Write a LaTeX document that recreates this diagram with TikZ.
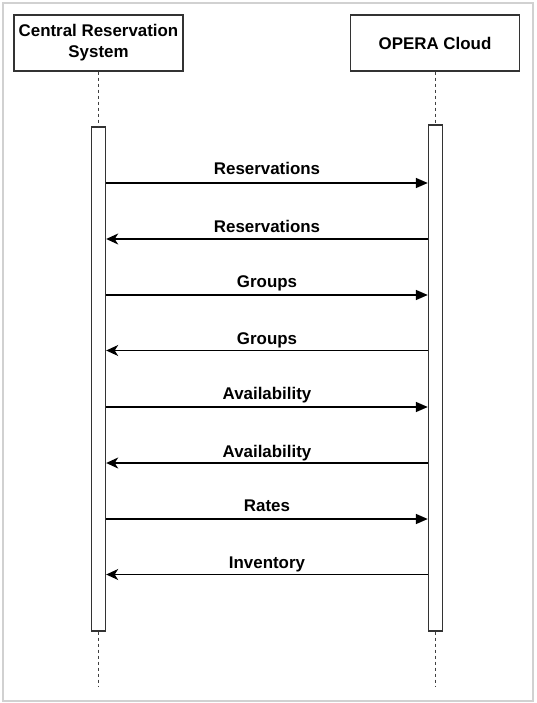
\documentclass[tikz,border=0pt]{standalone}
\usepackage{fontspec}
\setmainfont{Liberation Sans}
\usetikzlibrary{arrows.meta}

\begin{document}
\begin{tikzpicture}[x=1pt,y=-1pt,font=\bfseries\fontsize{16.9}{21}\selectfont]
\tikzstyle{actor}=[draw=black!80,line width=1.4pt,minimum width=169pt,minimum height=56pt,align=center,inner sep=0pt]
\tikzstyle{bar}=[draw=black!80,line width=1.4pt,fill=white,minimum width=14pt,inner sep=0pt]
\tikzstyle{life}=[draw=black!75,line width=1.4pt,dash pattern=on 3pt off 3pt]
\tikzstyle{call}=[line width=1.6pt,-{Triangle[length=12pt,width=10pt]}]
\tikzstyle{reply}=[line width=1.2pt,-{Stealth[length=12pt,width=11pt,inset=3.5pt]}]
\tikzstyle{msg}=[midway,anchor=base,inner sep=0pt]
\useasboundingbox (0,0) rectangle (536,703);
\draw [black!18,line width=1.2pt] (3,3) rectangle (533,701);
\node[actor] (CRS) at (98.5,43) {Central Reservation\\System};
\node[actor] (OC) at (435,43) {OPERA Cloud};
\node[bar,minimum height=504pt] (BL) at (98.5,379) {};
\node[bar,minimum height=506pt] (BR) at (435.5,378) {};
\coordinate (EL) at (98.5,687);
\coordinate (ER) at (435.5,687);
\draw [life] (CRS) -- (BL);
\draw [life] (OC.south -| BR) -- (BR);
\draw [life] (BL.south) -- (EL);
\draw [life] (BR.south) -- (ER);
% requests to OPERA Cloud
\foreach \y/\t/\n in {183/Reservations/1,295/Groups/3,407/Availability/5,519/Rates/7}{
    \coordinate (L\n) at (BL.east |- 0,\y);
    \coordinate (R\n) at (BR.west |- 0,\y);
    \draw [call] (L\n) -- (R\n) node[msg,yshift=8pt] {\t};
}
% replies to the reservation system
\foreach \y/\t/\n in {239/Reservations/2,350.5/Groups/4,463/Availability/6,574.5/Inventory/8}{
    \coordinate (L\n) at (BL.east |- 0,\y);
    \coordinate (R\n) at (BR.west |- 0,\y);
    \draw [reply] (R\n) -- (L\n) node[msg,yshift=6pt] {\t};
}
\end{tikzpicture}
\end{document}
